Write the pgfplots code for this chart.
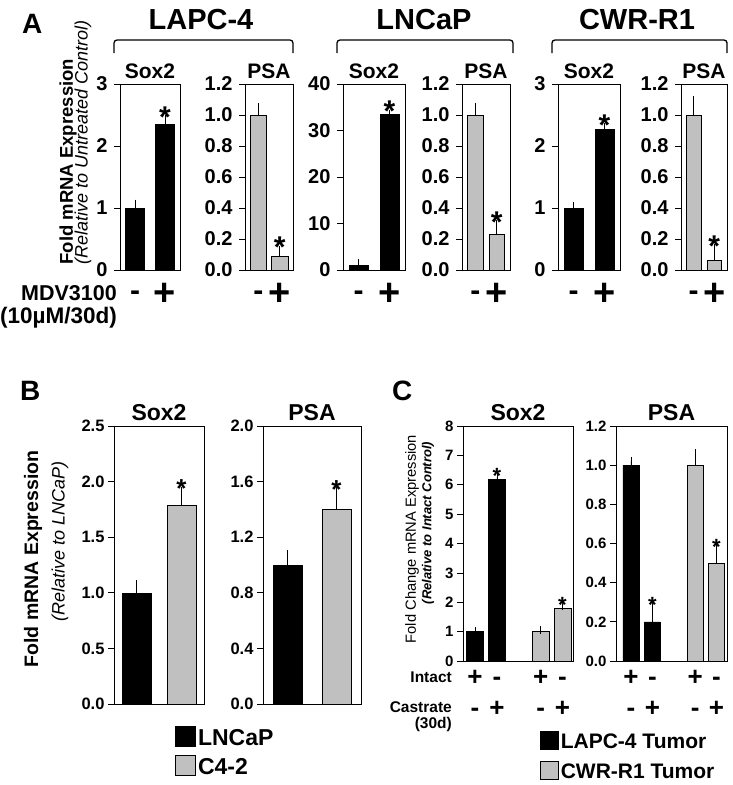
\documentclass[border=0pt]{standalone}
\usepackage{pgfplots}
\pgfplotsset{compat=1.18}
\usepackage{fontspec}
\setmainfont{Liberation Sans}
\definecolor{gbar}{RGB}{192,192,192}
\newcommand{\fs}[1]{\fontsize{#1}{#1}\selectfont}
\pgfplotsset{
 base/.style={scale only axis, anchor=south west, clip=false, ymin=0,
   enlarge x limits=false, xtick=\empty, ytick pos=left, tick align=outside,
   major tick length=6pt, axis line style={line width=0.7pt},
   tick style={black,line width=0.7pt},
   /pgf/number format/assume math mode=true},
 dec/.style={yticklabel style={/pgf/number format/fixed, /pgf/number format/fixed zerofill, /pgf/number format/precision=1}},
 int/.style={yticklabel style={/pgf/number format/fixed, /pgf/number format/precision=0}},
 bk/.style={ybar, bar shift=0pt, fill=black, draw=black, line width=0.6pt, forget plot,
   error bars/y dir=plus, error bars/y explicit,
   error bars/error bar style={line width=0.6pt, black},
   error bars/error mark options={line width=0.6pt, black, mark size=4pt}},
 gy/.style={bk, fill=gbar},
 legblackB/.style={legend image code/.code={\draw[fill=black, draw=black, line width=0.6pt] (0pt,-7.5pt) rectangle (20pt,12.5pt);}},
 leggreyB/.style={legend image code/.code={\draw[fill=gbar, draw=black, line width=0.6pt] (0pt,-7.5pt) rectangle (20pt,12.5pt);}},
 legblackC/.style={legend image code/.code={\draw[fill=black, draw=black, line width=0.6pt] (0pt,-7pt) rectangle (18pt,11pt);}},
 leggreyC/.style={legend image code/.code={\draw[fill=gbar, draw=black, line width=0.6pt] (0pt,-7pt) rectangle (18pt,11pt);}},
 aticks/.style={yticklabel style={font=\bfseries\fs{20}, xshift=-3pt}},
}
\begin{document}
\begin{tikzpicture}
\useasboundingbox (0pt,0pt) rectangle (732pt,-785pt);

% ---------------- Panel A ----------------
\node[anchor=base west, inner sep=0, font=\bfseries\fs{28}] at (22pt,-33pt) {A};
\node[anchor=base, font=\bfseries\fs{29}] at (201pt,-29pt) {LAPC-4};
\node[anchor=base, font=\bfseries\fs{29}] at (424pt,-29pt) {LNCaP};
\node[anchor=base, font=\bfseries\fs{29}] at (637pt,-29pt) {CWR-R1};
\draw[line width=1.3pt, rounded corners=3pt] (114pt,-53pt) -- (114pt,-40pt) -- (293pt,-40pt) -- (293pt,-53pt);
\draw[line width=1.3pt, rounded corners=3pt] (337pt,-53pt) -- (337pt,-40pt) -- (513pt,-40pt) -- (513pt,-53pt);
\draw[line width=1.3pt, rounded corners=3pt] (552pt,-53pt) -- (552pt,-40pt) -- (727pt,-40pt) -- (727pt,-53pt);
\node[rotate=90, anchor=west, font=\bfseries\fs{18.5}] at (68pt,-268pt) {Fold mRNA Expression};
\node[rotate=90, anchor=west, font=\itshape\fs{18}] at (83pt,-268pt) {(Relative to Untreated Control)};
\node[anchor=base east, inner sep=0, font=\bfseries\fs{21.5}] at (117pt,-300pt) {MDV3100};
\node[anchor=base west, inner sep=0, font=\bfseries\fs{22.5}] at (0pt,-323pt) {(10µM/30d)};

% LAPC-4 Sox2
\begin{axis}[base, int, aticks, at={(120pt,-270pt)}, width=60pt, height=186pt, xmin=0.5, xmax=2.5,
  bar width=0.64, ymax=3, ytick={0,1,2,3}]
\addplot[bk] coordinates {(1,1.00) +- (0,0.07) (2,2.35) +- (0,0.08)};
\node[anchor=base, font=\bfseries\fs{21}] at (rel axis cs:0.5,1) [yshift=6pt] {Sox2};
\node[anchor=base, font=\bfseries\fs{30}, yshift=-8pt] at (axis cs:2,2.43) {*};
\node[anchor=base, font=\bfseries\fs{30}, yshift=-30pt] at (axis cs:1,0) {-};
\node[anchor=base, font=\bfseries\fs{38}, yshift=-35pt] at (axis cs:2,0) {+};
\end{axis}
% LAPC-4 PSA
\begin{axis}[base, dec, aticks, at={(245pt,-270pt)}, width=48pt, height=186pt, xmin=0.38, xmax=2.62,
  bar width=0.76, ymax=1.2, ytick={0,0.2,...,1.2}]
\addplot[gy] coordinates {(1,1.00) +- (0,0.05) (2,0.09) +- (0,0.04)};
\node[anchor=base, font=\bfseries\fs{21}] at (rel axis cs:0.5,1) [yshift=6pt] {PSA};
\node[anchor=base, font=\bfseries\fs{30}, yshift=-8pt] at (axis cs:2,0.13) {*};
\node[anchor=base, font=\bfseries\fs{30}, yshift=-30pt] at (axis cs:1,0) {-};
\node[anchor=base, font=\bfseries\fs{38}, yshift=-35pt] at (axis cs:2,0) {+};
\end{axis}
% LNCaP Sox2
\begin{axis}[base, int, aticks, at={(343pt,-270pt)}, width=62pt, height=186pt, xmin=0.5, xmax=2.5,
  bar width=0.6, ymax=40, ytick={0,10,20,30,40}]
\addplot[bk] coordinates {(1,1.0) +- (0,0.6) (2,33.4) +- (0,0.2)};
\node[anchor=base, font=\bfseries\fs{21}] at (rel axis cs:0.5,1) [yshift=6pt] {Sox2};
\node[anchor=base, font=\bfseries\fs{30}, yshift=-8pt] at (axis cs:2,33.6) {*};
\node[anchor=base, font=\bfseries\fs{30}, yshift=-30pt] at (axis cs:1,0) {-};
\node[anchor=base, font=\bfseries\fs{38}, yshift=-35pt] at (axis cs:2,0) {+};
\end{axis}
% LNCaP PSA
\begin{axis}[base, dec, aticks, at={(462pt,-270pt)}, width=48pt, height=186pt, xmin=0.38, xmax=2.62,
  bar width=0.72, ymax=1.2, ytick={0,0.2,...,1.2}]
\addplot[gy] coordinates {(1,1.00) +- (0,0.05) (2,0.23) +- (0,0.065)};
\node[anchor=base, font=\bfseries\fs{21}] at (rel axis cs:0.5,1) [yshift=6pt] {PSA};
\node[anchor=base, font=\bfseries\fs{30}, yshift=-8pt] at (axis cs:2,0.295) {*};
\node[anchor=base, font=\bfseries\fs{30}, yshift=-30pt] at (axis cs:1,0) {-};
\node[anchor=base, font=\bfseries\fs{38}, yshift=-35pt] at (axis cs:2,0) {+};
\end{axis}
% CWR-R1 Sox2
\begin{axis}[base, int, aticks, at={(558pt,-270pt)}, width=62pt, height=186pt, xmin=0.5, xmax=2.5,
  bar width=0.6, ymax=3, ytick={0,1,2,3}]
\addplot[bk] coordinates {(1,1.00) +- (0,0.04) (2,2.27) +- (0,0.03)};
\node[anchor=base, font=\bfseries\fs{21}] at (rel axis cs:0.5,1) [yshift=6pt] {Sox2};
\node[anchor=base, font=\bfseries\fs{30}, yshift=-8pt] at (axis cs:2,2.30) {*};
\node[anchor=base, font=\bfseries\fs{30}, yshift=-30pt] at (axis cs:1,0) {-};
\node[anchor=base, font=\bfseries\fs{38}, yshift=-35pt] at (axis cs:2,0) {+};
\end{axis}
% CWR-R1 PSA
\begin{axis}[base, dec, aticks, at={(681pt,-270pt)}, width=46pt, height=186pt, xmin=0.38, xmax=2.62,
  bar width=0.72, ymax=1.2, ytick={0,0.2,...,1.2}]
\addplot[gy] coordinates {(1,1.00) +- (0,0.10) (2,0.06) +- (0,0.08)};
\node[anchor=base, font=\bfseries\fs{21}] at (rel axis cs:0.5,1) [yshift=6pt] {PSA};
\node[anchor=base, font=\bfseries\fs{30}, yshift=-8pt] at (axis cs:2,0.14) {*};
\node[anchor=base, font=\bfseries\fs{30}, yshift=-30pt] at (axis cs:1,0) {-};
\node[anchor=base, font=\bfseries\fs{38}, yshift=-35pt] at (axis cs:2,0) {+};
\end{axis}

% ---------------- Panel B ----------------
\node[anchor=base west, inner sep=0, font=\bfseries\fs{28}] at (20pt,-400pt) {B};
\node[rotate=90, font=\bfseries\fs{19.5}] at (33pt,-559pt) {Fold mRNA Expression};
\node[rotate=90, font=\itshape\fs{18}] at (60pt,-541pt) {(Relative to LNCaP)};
\begin{axis}[base, dec, at={(114pt,-704pt)}, width=90pt, height=278pt, xmin=0.5, xmax=2.5,
  bar width=0.64, ymax=2.5, ytick={0,0.5,...,2.5}, yticklabel style={font=\bfseries\fs{16.5}},
  legend style={at={(0.68,-0.079)}, anchor=north west, draw=none, fill=none, inner sep=0pt,
    row sep=4pt, font=\bfseries\fs{23}, nodes={inner sep=2pt, text height=17pt, text depth=4pt}},
  legend cell align=left]
\addplot[bk] coordinates {(1,1.00) +- (0,0.08)};
\addplot[gy] coordinates {(2,1.79) +- (0,0.13)};
\addlegendimage{legblackB}\addlegendentry{LNCaP}
\addlegendimage{leggreyB}\addlegendentry{C4-2}
\node[anchor=base, font=\bfseries\fs{23}] at (rel axis cs:0.5,1) [yshift=6pt] {Sox2};
\node[anchor=base, font=\bfseries\fs{26}, yshift=-7pt] at (axis cs:2,1.92) {*};
\end{axis}
\begin{axis}[base, dec, at={(263pt,-704pt)}, width=98pt, height=278pt, xmin=0.5, xmax=2.5,
  bar width=0.6, ymax=2.0, ytick={0,0.4,...,2.0}, yticklabel style={font=\bfseries\fs{16.5}}]
\addplot[bk] coordinates {(1,1.00) +- (0,0.08)};
\addplot[gy] coordinates {(2,1.40) +- (0,0.13)};
\node[anchor=base, font=\bfseries\fs{23}] at (rel axis cs:0.5,1) [yshift=6pt] {PSA};
\node[anchor=base, font=\bfseries\fs{26}, yshift=-7pt] at (axis cs:2,1.53) {*};
\end{axis}

% ---------------- Panel C ----------------
\node[anchor=base west, inner sep=0, font=\bfseries\fs{28}] at (392pt,-400pt) {C};
\node[rotate=90, font=\fs{14.7}] at (412pt,-539pt) {Fold Change mRNA Expression};
\node[rotate=90, font=\bfseries\itshape\fs{13}] at (428pt,-523pt) {(Relative to Intact Control)};
\node[anchor=base east, inner sep=0, font=\bfseries\fs{15.5}] at (452pt,-682pt) {Intact};
\node[anchor=base east, inner sep=0, font=\bfseries\fs{15.5}] at (452pt,-712pt) {Castrate};
\node[anchor=base east, inner sep=0, font=\bfseries\fs{15.5}] at (452pt,-728pt) {(30d)};
\begin{axis}[base, int, at={(463pt,-661pt)}, width=110pt, height=235pt, xmin=0.45, xmax=5.48,
  bar width=0.77, ymax=8, ytick={0,1,...,8}, yticklabel style={font=\bfseries\fs{15}},
  legend style={at={(0.7,-0.293)}, anchor=north west, draw=none, fill=none, inner sep=0pt,
    row sep=6pt, font=\bfseries\fs{21}, nodes={inner sep=2pt, text height=16pt, text depth=4pt}},
  legend cell align=left]
\addplot[bk] coordinates {(1,1.00) +- (0,0.02) (2,6.17) +- (0,0.08)};
\addplot[gy] coordinates {(4,1.02) +- (0,0.03) (5,1.80) +- (0,0.07)};
\addlegendimage{legblackC}\addlegendentry{LAPC-4 Tumor}
\addlegendimage{leggreyC}\addlegendentry{CWR-R1 Tumor}
\node[anchor=base, font=\bfseries\fs{23}] at (rel axis cs:0.5,1) [yshift=6pt] {Sox2};
\node[anchor=base, font=\bfseries\fs{22}, yshift=-6pt] at (axis cs:2,6.25) {*};
\node[anchor=base, font=\bfseries\fs{22}, yshift=-6pt] at (axis cs:5,1.87) {*};
\node[anchor=base, font=\bfseries\fs{26}, yshift=-24pt] at (axis cs:1,0) {+};
\node[anchor=base, font=\bfseries\fs{26}, yshift=-24pt] at (axis cs:2,0) {-};
\node[anchor=base, font=\bfseries\fs{26}, yshift=-24pt] at (axis cs:4,0) {+};
\node[anchor=base, font=\bfseries\fs{26}, yshift=-24pt] at (axis cs:5,0) {-};
\node[anchor=base, font=\bfseries\fs{26}, yshift=-55pt] at (axis cs:1,0) {-};
\node[anchor=base, font=\bfseries\fs{26}, yshift=-55pt] at (axis cs:2,0) {+};
\node[anchor=base, font=\bfseries\fs{26}, yshift=-55pt] at (axis cs:4,0) {-};
\node[anchor=base, font=\bfseries\fs{26}, yshift=-55pt] at (axis cs:5,0) {+};
\end{axis}
\begin{axis}[base, dec, at={(616pt,-661pt)}, width=111pt, height=235pt, xmin=0.3, xmax=5.49,
  bar width=0.75, ymax=1.2, ytick={0,0.2,...,1.2}, yticklabel style={font=\bfseries\fs{15}}]
\addplot[bk] coordinates {(1,1.00) +- (0,0.022) (2,0.20) +- (0,0.08)};
\addplot[gy] coordinates {(4,1.00) +- (0,0.06) (5,0.50) +- (0,0.075)};
\node[anchor=base, font=\bfseries\fs{23}] at (rel axis cs:0.5,1) [yshift=6pt] {PSA};
\node[anchor=base, font=\bfseries\fs{22}, yshift=-6pt] at (axis cs:2,0.28) {*};
\node[anchor=base, font=\bfseries\fs{22}, yshift=-6pt] at (axis cs:5,0.575) {*};
\node[anchor=base, font=\bfseries\fs{26}, yshift=-24pt] at (axis cs:1,0) {+};
\node[anchor=base, font=\bfseries\fs{26}, yshift=-24pt] at (axis cs:2,0) {-};
\node[anchor=base, font=\bfseries\fs{26}, yshift=-24pt] at (axis cs:4,0) {+};
\node[anchor=base, font=\bfseries\fs{26}, yshift=-24pt] at (axis cs:5,0) {-};
\node[anchor=base, font=\bfseries\fs{26}, yshift=-55pt] at (axis cs:1,0) {-};
\node[anchor=base, font=\bfseries\fs{26}, yshift=-55pt] at (axis cs:2,0) {+};
\node[anchor=base, font=\bfseries\fs{26}, yshift=-55pt] at (axis cs:4,0) {-};
\node[anchor=base, font=\bfseries\fs{26}, yshift=-55pt] at (axis cs:5,0) {+};
\end{axis}
\end{tikzpicture}
\end{document}
